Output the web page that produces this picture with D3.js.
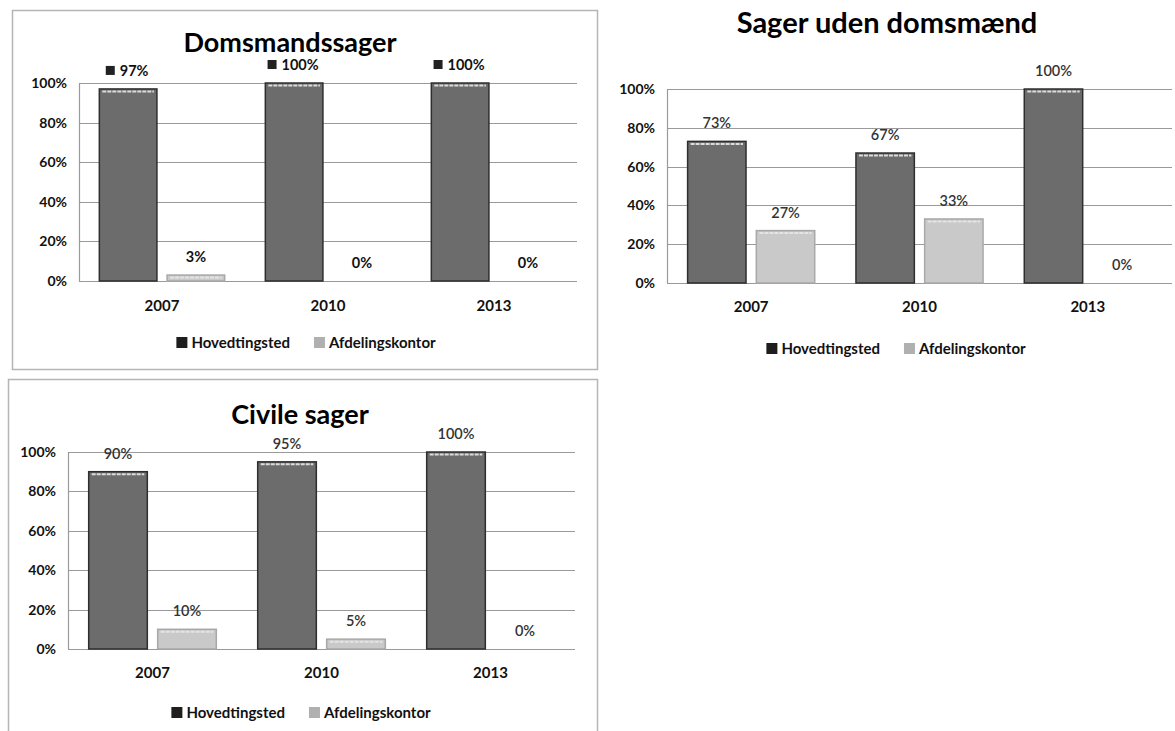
<!DOCTYPE html>
<html><head><meta charset="utf-8">
<script src="https://cdn.jsdelivr.net/npm/d3@7"></script>
<style>
html,body{margin:0;padding:0;background:#fff;}
svg{display:block;font-family:Lato,"Open Sans",sans-serif;}
</style></head>
<body>
<svg id="c" width="1175" height="731"></svg>
<script>
const categories = ["2007", "2010", "2013"];
const seriesNames = ["Hovedtingsted", "Afdelingskontor"];
const yTicks = [0, 20, 40, 60, 80, 100];
const tickLabels = ["0%", "20%", "40%", "60%", "80%", "100%"];

const domsTitle = "Domsmandssager";
const domsHoved = [97, 100, 100];
const domsAfd = [3, 0, 0];

const udenTitle = "Sager uden domsmænd";
const udenHoved = [73, 67, 100];
const udenAfd = [27, 33, 0];

const civTitle = "Civile sager";
const civHoved = [90, 95, 100];
const civAfd = [10, 5, 0];

const svg = d3.select("#c");

const panels = [
  {title: domsTitle, hoved: domsHoved, afd: domsAfd, box: [12, 10, 585, 359],
   left: 79, right: 577, top: 83, bottom: 281, titleX: 290, titleY: 52, titleSize: 27,
   catY: 311, legY: 348, legCx: 306, icons: true},
  {title: udenTitle, hoved: udenHoved, afd: udenAfd, box: null,
   left: 667, right: 1172, top: 89, bottom: 283, titleX: 887, titleY: 33, titleSize: 29,
   catY: 312, legY: 354, legCx: 896, icons: false},
  {title: civTitle, hoved: civHoved, afd: civAfd, box: [8, 379, 589, 360],
   left: 68, right: 575, top: 452, bottom: 649, titleX: 300, titleY: 424, titleSize: 27,
   catY: 678, legY: 718, legCx: 301, icons: false}
];

const hovedFill = "#6c6c6c", hovedEdge = "#2e2e2e", afdFill = "#c9c9c9", afdEdge = "#a8a8a8";

panels.forEach(p => {
  const g = svg.append("g");
  if (p.box) {
    g.append("rect").attr("x", p.box[0] + 0.5).attr("y", p.box[1] + 0.5)
      .attr("width", p.box[2]).attr("height", p.box[3])
      .attr("fill", "none").attr("stroke", "#b5b5b5").attr("stroke-width", 1.5);
  }
  const y = d3.scaleLinear().domain([0, 100]).range([p.bottom, p.top]);
  const x0 = d3.scaleBand().domain(categories).range([p.left, p.right]).padding(0);
  const x1 = d3.scaleBand().domain(seriesNames).range([0, x0.bandwidth()])
    .paddingInner(0.15).paddingOuter(0.3);

  g.append("g").selectAll("line").data(yTicks).join("line")
    .attr("x1", p.left).attr("x2", p.right)
    .attr("y1", d => Math.round(y(d)) + 0.5).attr("y2", d => Math.round(y(d)) + 0.5)
    .attr("stroke", "#9a9a9a").attr("stroke-width", 1.2);
  g.append("line").attr("x1", p.left + 0.5).attr("x2", p.left + 0.5)
    .attr("y1", p.top).attr("y2", p.bottom).attr("stroke", "#9a9a9a").attr("stroke-width", 1.2);

  g.append("g").selectAll("text").data(yTicks).join("text")
    .attr("x", p.left - 12).attr("y", d => y(d)).attr("dy", "0.35em")
    .attr("text-anchor", "end").attr("font-size", 14).attr("font-weight", 700)
    .attr("fill", "#111").text((d, i) => tickLabels[i]);

  const rows = categories.map((c, i) => ({c, vals: [p.hoved[i], p.afd[i]]}));
  rows.forEach(r => {
    r.vals.forEach((v, si) => {
      const bx = x0(r.c) + x1(seriesNames[si]);
      const bw = x1.bandwidth();
      const top = y(v), h = p.bottom - y(v);
      if (h > 0) {
        g.append("rect").attr("x", bx).attr("y", top).attr("width", bw).attr("height", h)
          .attr("fill", si === 0 ? hovedFill : afdFill)
          .attr("stroke", si === 0 ? hovedEdge : afdEdge).attr("stroke-width", 1.5);
        if (h > 4) {
          g.append("line").attr("x1", bx + 3).attr("x2", bx + bw - 3)
            .attr("y1", top + 2.5).attr("y2", top + 2.5)
            .attr("stroke", si === 0 ? "#dcdcdc" : "#e4e4e4").attr("stroke-width", 2)
            .attr("stroke-dasharray", "4,1");
        }
      }
      const cx = bx + bw / 2, ly = top - 13;
      const lbl = g.append("text").attr("x", cx + (p.icons && si === 0 ? 6 : 0)).attr("y", ly)
        .attr("text-anchor", "middle").attr("font-size", 14.5)
        .attr("font-weight", p.icons ? 700 : 600).attr("fill", p.icons ? "#111" : "#333")
        .text(v + "%");
      if (p.icons && si === 0) {
        const tw = lbl.node().getComputedTextLength();
        g.append("rect").attr("x", cx + 6 - tw / 2 - 14).attr("y", ly - 10)
          .attr("width", 9).attr("height", 9).attr("fill", "#222");
      }
    });
  });

  g.append("g").selectAll("text").data(categories).join("text")
    .attr("x", d => x0(d) + x0.bandwidth() / 2).attr("y", p.catY)
    .attr("text-anchor", "middle").attr("font-size", 15).attr("font-weight", 700)
    .attr("fill", "#111").text(d => d);

  g.append("text").attr("x", p.titleX).attr("y", p.titleY).attr("text-anchor", "middle")
    .attr("font-size", p.titleSize).attr("font-weight", 700).attr("fill", "#000").text(p.title);

  // legend, centred on legCx
  const lg = g.append("g");
  let lx = 0;
  seriesNames.forEach((s, i) => {
    lg.append("rect").attr("x", lx).attr("y", p.legY - 11).attr("width", 11).attr("height", 11)
      .attr("fill", i === 0 ? "#1e1e1e" : "#b0b0b0");
    const t = lg.append("text").attr("x", lx + 15).attr("y", p.legY).attr("font-size", 15)
      .attr("font-weight", 700).attr("fill", "#111").text(s);
    lx += 15 + t.node().getComputedTextLength() + (i === 0 ? 24 : 0);
  });
  lg.attr("transform", `translate(${p.legCx - lx / 2},0)`);
});
</script>
</body></html>
